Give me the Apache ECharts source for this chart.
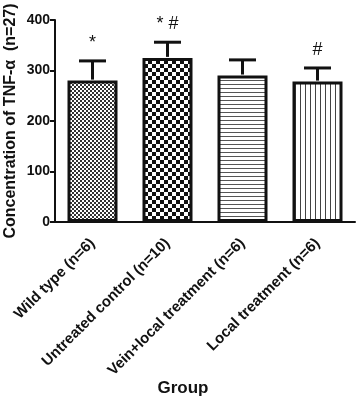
<!DOCTYPE html>
<html>
<head>
<meta charset="utf-8">
<script src="https://cdn.jsdelivr.net/npm/echarts@6/dist/echarts.min.js"></script>
<style>
  html, body { margin: 0; padding: 0; background: #fff; }
  #chart { width: 358px; height: 400px; }
</style>
</head>
<body>
<div id="chart"></div>
<script>
// groups and values
const groups = ['Wild type (n=6)', 'Untreated control (n=10)', 'Vein+local treatment (n=6)', 'Local treatment (n=6)']
const means = [280, 325, 290, 278]
const errTop = [319, 356, 321, 305]
const marks = ['*', '* #', '', '#']
const yTicks = [0, 100, 200, 300, 400]

const FONT = '"Liberation Sans", Arial, sans-serif'

function makePattern(w, h, draw) {
  const c = document.createElement('canvas')
  c.width = w
  c.height = h
  const ctx = c.getContext('2d')
  ctx.fillStyle = '#fff'
  ctx.fillRect(0, 0, w, h)
  draw(ctx)
  return { image: c, repeat: 'repeat' }
}

const patterns = [
  // fine checkerboard
  makePattern(4, 4, (ctx) => {
    ctx.fillStyle = '#333'
    ctx.fillRect(0, 0, 2, 2)
    ctx.fillRect(2, 2, 2, 2)
  }),
  // coarse checkerboard
  makePattern(8, 8, (ctx) => {
    ctx.fillStyle = '#111'
    ctx.fillRect(0, 0, 4, 4)
    ctx.fillRect(4, 4, 4, 4)
  }),
  // horizontal lines
  makePattern(4, 4, (ctx) => {
    ctx.fillStyle = '#555'
    ctx.fillRect(0, 0, 4, 1)
  }),
  // vertical lines
  makePattern(5, 5, (ctx) => {
    ctx.fillStyle = '#444'
    ctx.fillRect(0, 0, 1, 5)
  })
]

const chart = echarts.init(document.getElementById('chart'))

chart.setOption({
  animation: false,
  grid: { left: 55, right: 3, top: 20, bottom: 178, containLabel: false, outerBoundsMode: 'none' },
  xAxis: {
    type: 'category',
    data: groups,
    name: 'Group',
    nameLocation: 'middle',
    nameGap: 158,
    nameMoveOverlap: false,
    nameTextStyle: {
      color: '#111',
      fontFamily: FONT,
      fontWeight: 'bold',
      fontSize: 17,
      padding: [0, 44, 0, 0]
    },
    axisLine: { lineStyle: { color: '#111', width: 2 } },
    axisTick: { alignWithLabel: true, length: 5, lineStyle: { color: '#111', width: 2 } },
    axisLabel: {
      interval: 0,
      rotate: 45,
      margin: 19,
      color: '#111',
      fontFamily: FONT,
      fontWeight: 'bold',
      fontSize: 15
    }
  },
  yAxis: {
    type: 'value',
    min: yTicks[0],
    max: yTicks[yTicks.length - 1],
    interval: 100,
    name: 'Concentration of TNF-α  (n=27)',
    nameLocation: 'middle',
    nameGap: 36,
    nameMoveOverlap: false,
    nameTextStyle: { color: '#111', fontFamily: FONT, fontWeight: 'bold', fontSize: 16 },
    axisLine: { show: true, lineStyle: { color: '#111', width: 2 } },
    axisTick: { show: true, length: 5, lineStyle: { color: '#111', width: 2 } },
    splitLine: { show: false },
    axisLabel: {
      margin: 5,
      color: '#111',
      fontFamily: FONT,
      fontWeight: 'bold',
      fontSize: 14
    }
  },
  series: [
    {
      type: 'bar',
      barWidth: 50,
      data: means.map((v, i) => ({
        value: v,
        itemStyle: { color: patterns[i], borderColor: '#111', borderWidth: 3 }
      }))
    },
    {
      type: 'custom',
      z: 5,
      data: means.map((v, i) => [i, v, errTop[i]]),
      renderItem: (params, api) => {
        const i = api.value(0)
        const base = api.coord([i, api.value(1)])
        const top = api.coord([i, api.value(2)])
        const half = 13.5
        return {
          type: 'group',
          children: [
            {
              type: 'line',
              shape: { x1: base[0], y1: base[1] - 1, x2: top[0], y2: top[1] },
              style: { stroke: '#111', lineWidth: 3 }
            },
            {
              type: 'line',
              shape: { x1: top[0] - half, y1: top[1], x2: top[0] + half, y2: top[1] },
              style: { stroke: '#111', lineWidth: 3 }
            },
            {
              type: 'text',
              x: top[0],
              y: top[1] - 9,
              style: {
                text: marks[i],
                fill: '#111',
                font: '18px ' + FONT,
                align: 'center',
                verticalAlign: 'bottom'
              }
            }
          ]
        }
      }
    }
  ]
})
</script>
</body>
</html>
